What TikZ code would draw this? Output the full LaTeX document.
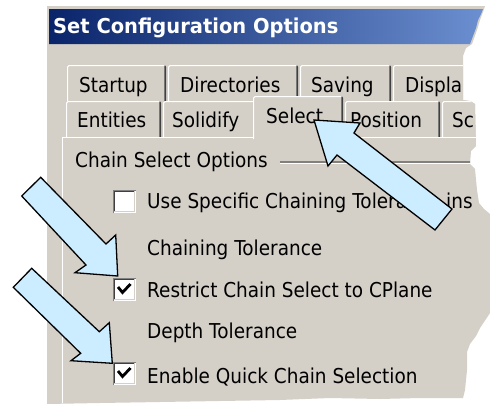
\documentclass[tikz,border=0pt]{standalone}
\usepackage{fontspec}
\newfontfamily\uifont[FakeStretch=0.9]{DejaVu Sans}
\newfontfamily\titlefont[FakeStretch=0.95]{DejaVu Sans Bold}
\definecolor{face}{HTML}{D4D0C8}
\definecolor{btnshadow}{HTML}{808080}
\definecolor{btndark}{HTML}{404040}
\definecolor{calloutblue}{HTML}{CCECFF}
\definecolor{captionL}{HTML}{0A246A}
\definecolor{captionR}{HTML}{6B8FD0}

\tikzset{
  ui/.style={inner sep=0pt, anchor=base west, text=black,
    font=\uifont\fontsize{20.5}{24}\selectfont},
  caption/.style={inner sep=0pt, anchor=base west, text=white,
    font=\titlefont\fontsize{20.5}{24}\selectfont},
  hilite/.style={draw=white, line width=1.2pt},
  shadowline/.style={draw=btnshadow, line width=1.2pt},
  darkline/.style={draw=btndark, line width=1.2pt},
  callout/.style={fill=calloutblue, draw=black, line width=1.3pt, line join=miter},
  tick/.style={draw=black, line width=2.8pt, line join=miter},
}

% a property-sheet tab: left x, right x, top y, bottom y
\newcommand\uitab[4]{%
  \fill[face] (#1,#4) -- (#1,#3+2) -- (#1+2,#3) -- (#2-2,#3) -- (#2,#3+2) -- (#2,#4) -- cycle;
  \draw[hilite] (#1+0.6,#4) -- (#1+0.6,#3+2) -- (#1+2,#3+0.6) -- (#2-2,#3+0.6);
  \draw[shadowline] (#2-1.8,#3+1.5) -- (#2-1.8,#4);
  \draw[darkline] (#2-1.2,#3+0.8) -- (#2-0.6,#3+2) -- (#2-0.6,#4);
}
% a sunken check box with its top left corner at (x,y)
\newcommand\uibox[2]{%
  \fill[white] (#1,#2) rectangle (#1+23,#2+23);
  \draw[shadowline] (#1+0.6,#2+23) -- (#1+0.6,#2+0.6) -- (#1+23,#2+0.6);
  \draw[darkline] (#1+1.8,#2+21.6) -- (#1+1.8,#2+1.8) -- (#1+21.6,#2+1.8);
  \draw[draw=face, line width=1.2pt] (#1+1.2,#2+21.8) -- (#1+21.8,#2+21.8) -- (#1+21.8,#2+1.2);
}
\newcommand\uitick[2]{%
  \draw[tick] (#1+5,#2+9) -- (#1+9.5,#2+14.5) -- (#1+17.5,#2+6);
}

\begin{document}
\begin{tikzpicture}[x=1pt,y=-1pt]
\useasboundingbox (0,0) rectangle (490,407);

% torn dialog body
\begin{scope}
\clip (47,6) -- (485,6) -- (483,12) -- (480,20) -- (477,30) -- (472,44) -- (466,48)
  -- (463,56) -- (463,100) -- (470,101) -- (475,104) -- (476,146) -- (471,151)
  -- (470,164) -- (475,169) -- (477,190) -- (479,203) -- (484,209) -- (490,214)
  -- (490,313) -- (486,319) -- (480,328) -- (476,336) -- (470,344) -- (467,352)
  -- (467,370) -- (465,390) -- (463,398) -- (420,398) -- (380,399) -- (330,398)
  -- (280,400) -- (220,401) -- (160,402) -- (100,403) -- (47,404) -- cycle;
\fill[face] (0,0) rectangle (490,407);

% caption bar
\shade[left color=captionL, right color=captionR]
  (49,9) -- (483,9) -- (481,14) -- (478,20) -- (476,28) -- (473,36) -- (470,44) -- (49,44) -- cycle;
\node[caption] (title) at (53,33) {Set Configuration Options};

% back row of tabs
\uitab{67}{166}{65}{103}
\uitab{168}{298}{65}{103}
\uitab{300}{391}{65}{103}
\uitab{393}{500}{65}{103}
% front row of tabs
\uitab{66}{161}{101}{137}
\uitab{163}{256}{101}{137}
\uitab{345}{440}{101}{137}
\uitab{442}{520}{101}{137}

% page frame
\draw[hilite] (62.6,403) -- (62.6,137.6) -- (490,137.6);

% selected tab
\uitab{253}{343}{96}{139}

\node[ui] (tStartup) at (79,92) {Startup};
\node[ui] (tDirs) at (180,92) {Directories};
\node[ui] (tSaving) at (311,92) {Saving};
\node[ui] (tDisplay) at (405,92) {Displa};
\node[ui] (tEntities) at (77,127) {Entities};
\node[ui] (tSolidify) at (172,127) {Solidify};
\node[ui] (tSelect) at (266,123) {Select};
\node[ui] (tPosition) at (350,127) {Position};
\node[ui] (tScreen) at (452,127) {Sc};

% group box
\node[ui] (grp) at (75,167) {Chain Select Options};
\draw[shadowline] (280,162) -- (490,162);
\draw[hilite] (280,163.2) -- (490,163.2);

\uibox{113}{190}
\node[ui] (optTol) at (147,208) {Use Specific Chaining Tolerance ins};
\node[ui] (lblTol) at (147,255) {Chaining Tolerance};
\uibox{113}{278}
\uitick{113}{278}
\node[ui] (optPlane) at (147,297) {Restrict Chain Select to CPlane};
\node[ui] (lblDepth) at (147,338) {Depth Tolerance};
\uibox{113}{362}
\uitick{113}{362}
\node[ui] (optQuick) at (147,383) {Enable Quick Chain Selection};
\end{scope}

% callout arrows
\draw[callout] (314,120) -- (360,123) -- (354,133) -- (452,209) -- (435,230)
  -- (337,155) -- (328,166) -- cycle;
\draw[callout] (40.7,177.3) -- (106,244) -- (115.7,235) -- (117.7,276)
  -- (75,272.7) -- (86,265) -- (21.7,196) -- cycle;
\draw[callout] (31.7,268.3) -- (99.3,331.7) -- (109.3,322.7) -- (112.3,363.3)
  -- (71,360.7) -- (80.7,353.3) -- (13.3,287.3) -- cycle;
\end{tikzpicture}
\end{document}
